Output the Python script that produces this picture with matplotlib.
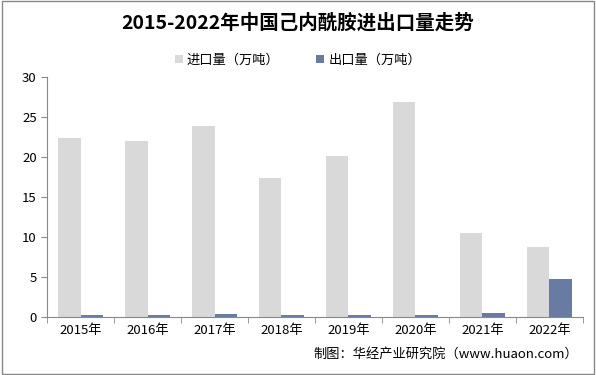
import numpy as np
import matplotlib.pyplot as plt

plt.rcParams['font.family'] = ['Noto Sans CJK SC', 'DejaVu Sans']

# === DATA ===
years = ['2015年', '2016年', '2017年', '2018年', '2019年', '2020年', '2021年', '2022年']
imports = [22.4, 22.0, 23.8, 17.4, 20.1, 26.8, 10.5, 8.7]
exports = [0.2, 0.2, 0.35, 0.2, 0.2, 0.2, 0.45, 4.75]

# === PLOTTING ===
fig = plt.figure(figsize=(5.96, 3.75), dpi=100)
ax = fig.add_axes([0.079, 0.155, 0.899, 0.64])

x = np.arange(len(years))
w = 0.33
ax.bar(x - w / 2, imports, w, color='#d9d9d9', label='进口量（万吨）')
ax.bar(x + w / 2, exports, w, color='#687ca3', label='出口量（万吨）')

ax.set_xlim(-0.5, len(years) - 0.5)
ax.set_ylim(0, 30)
ax.set_yticks(range(0, 31, 5))
ax.set_xticks(x)
ax.set_xticklabels(years)
ax.set_xticks(np.arange(-0.5, len(years), 1), minor=True)
ax.tick_params(axis='x', which='major', length=0, labelsize=9.5, pad=5)
ax.tick_params(axis='x', which='minor', length=4, color='#888888')
ax.tick_params(axis='y', length=4, color='#888888', labelsize=9.5)

for s in ['top', 'right']:
    ax.spines[s].set_visible(False)
for s in ['left', 'bottom']:
    ax.spines[s].set_color('#888888')

fig.text(0.5, 0.94, '2015-2022年中国己内酰胺进出口量走势', ha='center', va='center',
         fontsize=14, fontweight='bold')
fig.legend(loc='center', bbox_to_anchor=(0.5, 0.84), ncol=2, frameon=False,
           fontsize=9.5, handlelength=0.6, handleheight=0.6, columnspacing=2.8,
           handletextpad=0.3)
fig.text(0.97, 0.055, '制图：华经产业研究院（www.huaon.com）', ha='right', va='center',
         fontsize=9.5)

# outer border
fig.add_artist(plt.Rectangle((0.003, 0.003), 0.994, 0.994, transform=fig.transFigure,
                             fill=False, edgecolor='#888888', linewidth=1))

fig.savefig('out.png', dpi=100)
